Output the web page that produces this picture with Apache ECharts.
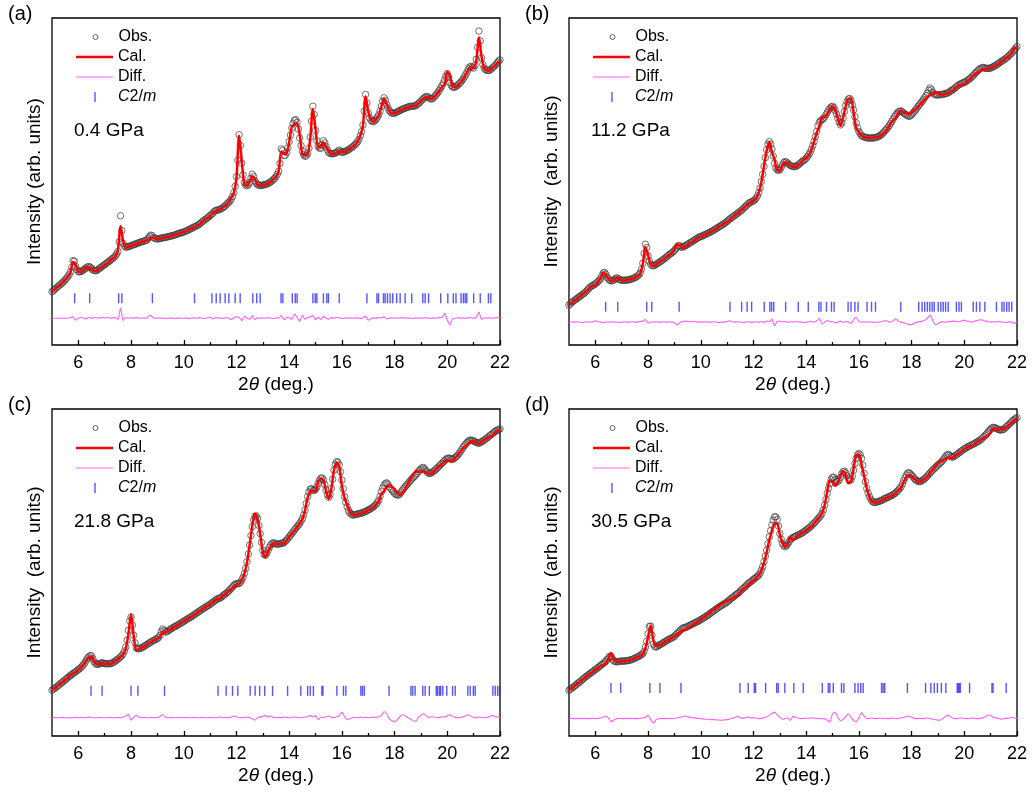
<!DOCTYPE html>
<html>
<head>
<meta charset="utf-8">
<title>Rietveld refinements under pressure</title>
<script src="https://cdn.jsdelivr.net/npm/echarts@6/dist/echarts.min.js"></script>
<style>
  html, body { margin: 0; padding: 0; background: #fff; }
  #chart { width: 1033px; height: 794px; }
</style>
</head>
<body>
<div id="chart"></div>
<script>
// ---- Powder patterns, 2θ = 5°…22°, intensities in arbitrary units ----
// Observed profiles are sampled every 0.05°, calculated and difference profiles every 0.1°.
const twoThetaStart = 5.0;
const obsStep = 0.05;
const calStep = 0.1;

// 0.4 GPa
const obsA = [
  16.3,16.6,17.0,17.4,17.7,18.0,18.4,18.7,19.1,19.5,19.9,20.4,20.9,21.5,22.4,23.8,25.8,25.6,24.0,23.0,
  22.4,22.4,22.5,22.7,23.0,23.3,23.6,23.9,24.0,23.8,23.4,23.0,22.8,22.7,22.8,23.1,23.4,23.7,24.0,24.3,
  24.6,24.9,25.2,25.5,25.8,26.1,26.5,26.8,27.2,27.8,28.6,31.5,39.5,35.0,31.1,30.2,29.9,30.0,30.1,30.2,
  30.4,30.5,30.7,30.8,31.0,31.1,31.3,31.4,31.6,31.7,31.8,31.9,32.1,32.6,33.2,33.6,33.4,32.9,32.6,32.5,
  32.4,32.5,32.6,32.7,32.8,32.8,32.9,33.0,33.1,33.2,33.3,33.4,33.5,33.6,33.8,33.9,34.1,34.2,34.3,34.4,
  34.6,34.7,34.9,35.1,35.3,35.5,35.7,35.9,36.1,36.3,36.5,36.7,37.0,37.3,37.7,38.0,38.3,38.6,38.9,39.2,
  39.6,39.9,40.3,40.8,41.1,41.2,41.3,41.4,41.6,41.8,42.1,42.4,42.8,43.2,43.6,44.0,44.6,45.4,46.6,48.5,
  51.5,56.5,64.3,61.0,55.6,52.0,49.7,48.9,48.7,49.0,49.7,51.0,52.2,51.5,50.2,49.5,49.0,48.9,48.8,48.8,
  48.9,49.0,49.1,49.2,49.4,49.6,49.9,50.2,50.6,51.0,51.5,52.2,53.1,55.5,60.0,59.5,57.9,58.0,58.9,60.3,
  62.2,64.2,66.3,67.8,68.7,68.9,68.1,66.0,63.3,61.0,59.2,58.2,57.7,57.9,58.5,60.2,63.6,68.5,73.0,70.5,
  65.6,62.5,60.7,60.2,60.2,61.2,62.5,61.8,60.7,59.7,58.9,58.6,58.5,58.5,58.6,58.7,58.9,59.3,59.6,59.2,
  58.9,59.0,59.1,59.3,59.5,59.7,60.0,60.3,60.6,60.9,61.3,61.7,62.2,62.9,64.0,65.3,67.3,71.5,76.6,74.0,
  70.9,69.5,68.7,68.4,68.3,68.6,69.1,69.7,70.4,71.5,73.0,74.6,75.6,74.8,73.5,72.5,71.7,71.2,70.9,70.9,
  70.9,71.1,71.3,71.5,71.7,71.9,72.1,72.3,72.4,72.6,72.7,72.9,73.0,73.0,73.0,73.1,73.2,73.5,73.8,74.2,
  74.6,75.0,75.4,75.8,76.0,75.9,75.6,75.4,75.2,75.4,75.8,76.3,76.8,77.3,77.9,78.6,79.3,80.1,81.1,82.2,
  83.0,81.8,80.3,79.4,78.9,78.8,78.9,79.2,79.5,79.9,80.3,80.8,81.3,82.0,82.7,83.5,84.4,85.0,85.2,85.0,
  84.7,85.5,87.4,91.0,96.0,93.0,87.8,85.8,84.7,84.2,84.0,83.9,84.0,84.3,84.7,85.0,85.4,85.9,86.4,86.8,
  87.2
];
const calA = [
  16.3,17.0,17.7,18.4,19.1,19.9,20.9,22.2,25.4,24.6,
  22.4,22.3,23.0,23.8,23.7,23.4,22.6,22.7,23.4,23.8,
  24.5,24.9,25.8,26.4,27.0,29.0,36.4,31.8,29.7,30.1,
  30.3,30.7,30.8,31.3,31.6,31.7,32.1,32.3,32.9,32.7,
  32.3,32.6,32.7,33.0,33.1,33.2,33.5,33.9,34.0,34.3,
  34.6,34.8,35.4,35.7,36.0,36.5,36.8,37.7,38.4,38.8,
  39.3,40.5,40.9,41.3,41.5,42.2,42.6,43.6,45.0,46.5,
  51.1,64.0,56.4,49.1,48.7,50.0,51.5,50.7,48.9,48.8,
  48.8,49.1,49.2,49.9,50.7,51.4,53.1,59.2,58.4,58.6,
  62.0,66.7,67.4,67.8,64.3,58.3,58.0,58.3,63.2,72.2,
  66.1,60.4,60.6,61.9,60.7,59.2,58.3,58.6,58.6,59.4,
  59.0,59.0,59.5,59.9,60.6,61.2,62.2,64.1,67.1,76.0,
  71.5,68.9,68.2,69.1,70.2,72.9,75.2,73.7,71.7,70.8,
  70.9,71.2,71.7,71.9,72.4,72.6,73.0,73.1,73.1,73.8,
  74.5,75.4,75.8,75.7,75.2,75.7,76.8,77.7,79.0,79.7,
  83.6,82.4,79.0,78.9,79.3,80.3,81.2,82.7,84.2,85.1,
  84.7,87.1,94.1,88.2,84.6,84.0,83.9,84.7,85.3,86.2,
  86.9
];
const diffA = [
  0.0,0.0,0.0,0.0,0.0,0.0,0.0,0.2,0.4,-0.6,
  0.0,0.2,0.0,-0.2,0.3,0.0,0.2,0.1,0.0,0.2,
  0.1,0.3,0.0,0.1,0.2,-0.4,3.1,-0.7,0.2,0.0,
  0.1,0.0,0.2,0.0,0.0,0.1,0.0,0.9,0.5,-0.1,
  0.1,0.0,0.1,-0.1,0.0,0.1,0.0,-0.1,0.1,0.0,
  0.0,0.1,-0.1,0.0,0.1,0.0,0.2,0.0,-0.1,0.1,
  0.3,-0.2,0.2,0.0,0.1,-0.1,0.2,0.0,-0.4,0.1,
  0.4,0.3,-0.8,0.6,0.0,-0.3,0.7,-0.5,0.1,0.0,
  0.1,0.0,0.2,0.0,-0.1,0.1,0.0,0.8,-0.5,0.3,
  0.2,-0.4,1.3,0.3,-1.0,0.9,-0.3,0.2,0.4,0.8,
  -0.5,0.3,-0.4,0.6,0.0,-0.3,0.2,0.0,0.3,0.2,
  -0.1,0.1,0.0,0.1,0.0,0.1,0.0,-0.1,0.2,0.6,
  -0.6,-0.2,0.1,0.0,0.2,0.1,0.4,-0.2,0.0,0.1,
  0.0,0.1,0.0,0.2,0.0,0.1,0.0,-0.1,0.1,0.0,
  0.1,0.0,0.2,-0.1,0.0,0.1,0.0,0.2,0.3,1.4,
  -0.6,-2.1,-0.1,0.0,0.2,0.0,0.1,0.0,0.2,0.1,
  0.0,0.3,1.9,-0.4,0.1,0.0,0.1,0.0,0.1,0.2,
  0.3
];
const hklA = [5.86,6.43,7.53,7.65,8.81,10.41,11.07,11.23,11.38,11.57,11.71,11.95,12.14,12.62,12.77,12.90,
  13.69,13.76,14.12,14.23,14.30,14.90,14.99,15.05,15.30,15.43,15.49,15.90,16.95,17.33,17.39,17.58,17.64,
  17.73,17.83,17.93,18.08,18.21,18.40,18.65,19.07,19.16,19.29,19.75,20.02,20.23,20.33,20.52,20.61,20.68,
  20.74,21.00,21.25,21.56,21.65];

// 11.2 GPa
const obsB = [
  12.2,12.6,13.0,13.3,13.6,13.9,14.2,14.5,14.8,15.1,15.4,15.7,16.0,16.4,16.8,17.3,17.7,18.0,18.2,18.4,
  18.7,19.0,19.4,19.8,20.3,21.2,22.0,22.2,21.6,20.7,20.1,19.8,19.6,19.7,19.9,20.2,20.5,20.4,20.1,19.9,
  19.8,19.8,19.8,19.8,19.9,19.9,20.0,20.1,20.3,20.4,20.6,20.8,21.1,21.5,22.1,23.2,25.0,28.0,30.8,29.8,
  27.2,25.7,24.7,24.3,24.2,24.4,24.6,24.9,25.2,25.4,25.7,26.0,26.3,26.6,26.9,27.3,27.6,27.9,28.2,28.5,
  28.9,29.4,29.9,30.4,30.3,30.0,29.9,30.1,30.3,30.5,30.8,31.0,31.3,31.5,31.8,32.0,32.3,32.6,32.8,33.0,
  33.2,33.3,33.5,33.7,33.9,34.1,34.3,34.5,34.7,34.9,35.2,35.4,35.7,35.9,36.2,36.4,36.7,36.9,37.2,37.5,
  37.8,38.2,38.5,38.8,39.1,39.4,39.7,40.0,40.3,40.6,40.9,41.2,41.6,42.0,42.4,42.8,43.2,43.5,43.7,43.9,
  44.1,44.4,44.9,45.6,46.6,48.0,50.0,52.2,54.6,57.3,59.7,61.4,62.2,61.5,59.9,57.8,55.6,54.2,53.6,53.4,
  53.6,54.3,55.1,55.8,56.1,55.9,55.6,55.2,54.9,54.7,54.6,54.6,54.6,54.8,55.1,55.4,55.8,56.1,56.4,56.7,
  57.1,57.6,58.2,58.9,59.9,61.0,62.2,63.7,65.3,67.0,68.1,68.6,68.9,69.2,69.7,70.4,71.1,71.8,72.4,72.8,
  73.0,72.6,71.7,70.6,69.4,68.2,67.3,67.9,69.4,71.4,73.2,74.4,75.2,75.4,74.8,73.5,71.9,69.8,67.9,66.4,
  65.3,64.6,64.0,63.8,63.6,63.5,63.4,63.3,63.3,63.3,63.3,63.3,63.4,63.5,63.6,63.8,64.0,64.3,64.7,65.1,
  65.6,66.0,66.5,67.1,67.7,68.4,69.1,69.8,70.4,70.9,71.3,71.5,71.6,71.3,70.9,70.6,70.4,70.1,69.9,70.1,
  70.4,70.9,71.4,71.9,72.4,73.0,73.5,74.0,74.5,75.1,75.7,76.3,77.0,77.9,78.6,78.1,77.3,76.8,76.5,76.5,
  76.5,76.5,76.6,76.6,76.7,76.8,76.9,77.0,77.2,77.5,77.8,78.0,78.3,78.6,79.0,79.3,79.6,79.8,80.0,80.2,
  80.3,80.5,80.8,81.1,81.4,81.7,82.1,82.5,83.0,83.4,83.8,84.2,84.5,84.7,84.9,84.8,84.6,84.6,84.6,84.6,
  84.7,84.9,85.1,85.3,85.6,85.8,86.1,86.4,86.7,86.9,87.2,87.5,87.8,88.1,88.5,88.9,89.3,89.8,90.3,90.8,
  91.3
];
const calB = [
  12.2,12.9,13.6,14.1,14.8,15.5,16.0,16.7,17.7,18.1,
  18.3,19.3,20.3,22.2,21.5,20.1,19.5,19.9,20.5,20.2,
  19.8,19.7,19.9,20.0,20.2,20.6,21.0,21.9,24.7,30.0,
  27.5,24.6,24.2,24.5,25.2,25.7,26.2,26.9,27.5,28.2,
  29.1,30.7,30.5,29.7,30.0,30.6,31.2,31.6,32.2,32.8,
  33.1,33.5,33.8,34.3,34.7,35.1,35.7,36.3,36.7,37.2,
  37.6,38.1,39.0,39.7,40.2,40.9,41.7,42.4,43.1,43.7,
  44.1,44.8,46.6,49.8,54.7,59.4,62.0,59.0,56.7,53.4,
  53.3,55.0,55.9,55.6,54.8,54.6,54.4,55.1,55.7,56.6,
  57.1,58.1,59.7,62.2,64.9,66.9,69.5,69.7,70.6,72.2,
  72.9,71.9,69.4,67.0,69.5,73.0,75.2,75.2,71.1,66.4,
  65.1,64.0,63.5,63.4,63.2,63.3,63.5,63.6,63.9,64.5,
  65.1,66.3,67.7,68.7,69.4,71.0,71.6,71.1,70.9,70.6,
  71.2,71.7,72.4,73.4,74.2,75.1,75.8,76.4,76.7,77.3,
  77.0,76.6,76.6,76.9,77.1,77.6,78.0,78.8,79.5,79.6,
  79.7,80.5,81.2,82.1,82.7,83.3,83.8,84.3,84.3,84.5,
  84.7,85.0,85.6,85.9,86.6,87.2,87.9,88.4,89.3,90.7,
  91.1
];
const diffB = [
  0.0,0.1,0.0,0.1,0.0,-0.1,0.0,0.1,0.0,0.1,
  0.4,0.1,0.0,-0.2,0.1,0.0,0.1,0.0,0.0,-0.1,
  0.0,0.1,0.0,0.0,0.1,0.0,0.1,0.2,0.3,0.8,
  -0.3,0.1,0.0,0.1,0.0,0.0,0.1,0.0,0.1,0.0,
  -0.2,-0.8,-0.2,0.2,0.3,0.2,0.1,0.2,0.1,0.0,
  0.1,0.0,0.1,0.0,0.0,0.1,0.0,-0.1,0.0,0.0,
  0.2,0.4,0.1,0.0,0.1,0.0,-0.1,0.0,0.1,0.0,
  0.0,0.1,0.0,0.2,-0.1,0.3,0.2,0.9,-1.1,0.2,
  0.3,0.1,0.2,0.0,0.1,0.0,0.2,0.0,0.1,-0.2,
  0.0,0.1,0.2,0.0,0.4,1.2,-0.6,0.0,0.5,0.2,
  0.1,-0.2,0.0,0.3,-0.1,0.2,0.0,-0.4,0.8,1.5,
  0.2,0.0,0.1,0.0,0.1,0.0,-0.1,0.0,0.1,0.2,
  0.5,0.2,0.0,0.4,1.0,0.3,0.0,-0.2,-0.5,-0.7,
  -0.8,-0.3,0.0,0.1,0.3,0.6,1.2,2.2,0.6,-0.8,
  -0.5,0.0,0.1,0.0,0.1,0.2,0.3,0.2,0.1,0.4,
  0.6,0.3,0.2,0.0,0.3,0.5,0.7,0.6,0.3,0.1,
  0.0,0.1,0.0,0.2,0.1,0.0,-0.1,0.1,0.0,-0.4,
  0.2
];
const hklB = [6.39,6.85,7.95,8.14,9.18,11.11,11.55,11.76,11.93,12.41,12.62,12.69,12.77,13.22,13.70,14.08,
  14.48,14.56,14.77,14.96,15.06,15.59,15.70,15.85,15.97,16.31,16.48,16.63,17.59,18.27,18.40,18.50,18.60,
  18.69,18.78,18.86,19.01,19.11,19.20,19.29,19.39,19.70,19.80,19.89,20.34,20.46,20.59,20.78,21.22,21.43,
  21.51,21.61,21.70,21.80];

// 21.8 GPa
const obsC = [
  14.0,14.3,14.6,14.9,15.2,15.5,15.9,16.2,16.5,16.8,17.2,17.5,17.9,18.2,18.5,18.8,19.1,19.4,19.7,20.0,
  20.3,20.6,21.0,21.4,21.9,22.5,23.2,23.8,24.2,24.6,24.5,23.6,22.7,22.2,21.9,21.9,22.1,22.3,22.4,22.3,
  22.1,22.1,22.1,22.1,22.1,22.2,22.4,22.6,22.9,23.2,23.5,23.8,24.2,24.6,25.2,26.0,27.2,29.3,32.3,35.2,
  36.4,34.0,30.8,28.5,27.0,26.7,26.7,26.8,27.0,27.2,27.4,27.7,28.0,28.2,28.5,28.7,29.0,29.2,29.4,29.6,
  29.8,30.2,30.8,31.9,32.7,32.3,31.8,31.9,32.1,32.4,32.7,32.9,33.2,33.4,33.6,33.8,34.1,34.3,34.6,34.8,
  35.1,35.3,35.6,35.8,36.1,36.3,36.6,36.8,37.1,37.4,37.7,37.9,38.2,38.5,38.8,39.0,39.3,39.5,39.8,40.0,
  40.3,40.6,40.9,41.2,41.5,41.8,42.0,42.1,42.3,42.6,43.0,43.3,43.6,43.9,44.3,44.7,45.1,45.6,46.1,46.4,
  46.6,46.6,46.6,47.0,47.7,48.5,49.7,51.3,53.3,55.7,58.4,61.3,64.0,66.0,67.2,67.3,66.5,64.4,61.9,59.2,
  56.8,55.6,55.3,55.9,56.8,57.7,58.4,58.9,59.1,58.9,58.7,58.7,58.7,58.8,58.9,59.0,59.1,59.5,59.9,60.4,
  60.9,61.4,61.9,62.4,63.0,63.5,64.0,64.5,65.0,65.7,66.5,67.6,69.1,71.1,73.2,74.6,75.5,75.6,75.2,75.1,
  75.4,76.2,77.2,78.2,78.8,78.9,78.3,76.9,75.2,73.8,73.0,73.8,75.7,78.5,81.3,83.1,83.9,83.7,82.9,80.8,
  78.3,75.6,73.2,71.4,70.1,69.0,68.3,67.9,67.6,67.6,67.7,67.8,67.9,68.0,68.1,68.2,68.3,68.5,68.7,68.9,
  69.1,69.3,69.6,69.8,70.1,70.5,70.9,71.4,72.1,73.3,74.7,75.8,76.7,77.2,77.4,77.0,76.2,75.7,75.2,74.7,
  74.2,73.9,73.7,73.7,74.0,74.6,75.2,75.7,76.2,76.7,77.1,77.6,78.1,78.6,79.0,79.4,79.8,80.3,80.8,81.3,
  81.7,82.0,82.1,81.6,81.1,80.6,80.3,80.3,80.5,80.8,81.1,81.4,81.8,82.2,82.6,83.0,83.4,83.8,84.2,84.6,
  84.9,85.0,84.9,84.7,84.6,84.8,85.2,85.5,85.9,86.4,87.0,87.6,88.3,88.8,89.3,89.8,90.2,90.4,90.5,90.4,
  90.2,90.0,89.8,89.6,89.5,89.7,90.0,90.2,90.5,90.8,91.1,91.4,91.8,92.1,92.4,92.7,93.1,93.3,93.5,93.7,
  93.9
];
const calC = [
  14.0,14.5,15.2,15.9,16.4,17.2,17.9,18.6,19.1,19.6,
  20.3,20.9,21.9,23.2,24.0,24.4,22.7,21.9,22.0,22.4,
  22.1,22.1,22.0,22.4,22.9,23.4,24.2,25.0,26.7,31.3,
  37.2,30.6,26.3,26.5,27.0,27.3,28.0,28.5,28.9,29.4,
  29.7,30.4,31.8,31.6,32.1,32.6,33.2,33.6,34.0,34.6,
  35.1,35.5,36.1,36.6,37.0,37.7,38.2,38.7,39.3,39.8,
  40.2,40.9,41.5,41.9,42.1,43.0,43.5,44.3,44.9,45.6,
  46.3,46.6,47.6,49.7,53.1,58.4,64.3,68.0,66.4,61.7,
  56.4,54.6,56.6,57.9,59.0,58.7,58.6,58.9,58.9,59.8,
  60.9,61.8,62.8,63.9,65.0,66.4,68.9,72.9,74.8,75.0,
  74.7,77.8,78.6,78.3,74.9,72.5,75.6,81.3,83.6,82.3,
  76.6,72.8,70.7,68.6,67.6,67.6,67.9,67.9,68.3,68.6,
  69.1,69.5,69.9,70.8,71.8,74.1,74.8,76.2,76.6,76.1,
  75.5,74.3,73.7,74.3,75.6,77.1,78.5,79.9,80.9,80.8,
  80.9,80.9,80.6,80.2,80.2,80.9,81.8,82.5,83.1,84.0,
  84.4,84.0,84.2,85.1,85.9,86.9,88.0,88.7,89.3,90.1,
  90.1,89.8,89.3,89.9,90.5,91.0,91.5,91.7,92.7,93.3,
  93.8
];
const diffC = [
  0.0,0.1,0.0,0.0,0.1,0.0,0.0,-0.1,0.0,0.1,
  0.0,0.1,0.0,0.0,0.2,0.1,0.0,0.0,0.1,0.0,
  0.0,0.0,0.1,0.0,0.0,0.1,0.0,0.2,0.5,1.0,
  -0.8,0.2,0.7,0.2,0.0,0.1,0.0,0.0,0.1,0.0,
  0.1,0.4,0.9,0.2,0.0,0.1,0.0,0.0,0.1,0.0,
  0.0,0.1,0.0,0.0,0.1,0.0,0.0,0.1,0.0,0.0,
  0.1,0.0,0.0,0.1,0.2,0.0,0.1,0.0,0.2,0.5,
  0.3,0.0,0.1,0.0,0.2,0.0,-0.3,-0.8,0.1,0.2,
  0.4,0.7,0.2,0.5,0.1,0.0,0.1,0.0,0.2,0.1,
  0.0,0.1,0.2,0.1,0.0,0.1,0.2,0.3,0.7,0.2,
  0.7,-0.6,0.2,0.0,0.3,0.5,0.1,0.0,0.3,0.6,
  1.7,0.4,-0.6,-0.3,0.0,0.1,0.0,0.2,0.0,0.1,
  0.0,0.1,0.2,0.1,0.3,0.6,1.9,1.2,-0.4,-0.9,
  -1.3,-0.6,0.3,0.9,0.6,0.0,-0.4,-0.9,-1.1,0.0,
  0.8,1.2,0.5,0.1,0.3,0.2,0.0,0.1,0.3,0.2,
  0.5,0.9,0.4,0.1,0.0,0.1,0.3,0.6,0.9,0.4,
  0.1,0.0,0.2,0.1,0.0,0.1,0.3,0.7,0.4,0.2,
  0.1
];
const hklC = [6.48,6.90,8.00,8.26,9.27,11.30,11.61,11.85,12.05,12.52,12.71,12.88,13.07,13.37,13.94,14.44,
  14.70,14.80,14.92,15.24,15.28,15.81,16.06,16.15,16.72,16.78,16.85,17.79,18.62,18.69,18.78,19.07,19.16,
  19.32,19.58,19.63,19.70,19.75,19.83,19.98,20.20,20.30,20.78,20.87,20.99,21.06,21.73,21.82,21.91,21.98];

// 30.5 GPa
const obsD = [
  14.0,14.3,14.6,14.9,15.2,15.5,15.9,16.2,16.5,16.8,17.2,17.5,17.9,18.2,18.5,18.8,19.1,19.4,19.7,20.0,
  20.3,20.6,20.9,21.2,21.6,21.9,22.2,22.5,22.9,23.4,23.9,24.4,24.4,23.6,23.0,22.8,22.7,22.7,22.8,22.9,
  22.9,22.9,22.9,23.0,23.0,23.1,23.2,23.3,23.4,23.6,23.8,24.0,24.2,24.4,24.6,24.9,25.2,25.9,27.2,29.0,
  31.3,33.5,33.6,30.8,28.1,27.4,27.2,27.4,27.7,27.9,28.1,28.4,28.6,28.9,29.1,29.4,29.6,29.8,30.0,30.2,
  30.5,30.9,31.3,31.7,32.1,32.5,32.9,33.1,33.2,33.3,33.5,33.7,33.9,34.1,34.3,34.5,34.7,34.9,35.1,35.3,
  35.6,35.8,36.1,36.3,36.6,36.8,37.1,37.4,37.8,38.0,38.3,38.6,38.9,39.2,39.5,39.7,40.0,40.2,40.5,40.7,
  41.0,41.3,41.7,42.0,42.3,42.6,43.0,43.3,43.6,43.9,44.3,44.7,45.1,45.4,45.8,46.2,46.6,46.9,47.2,47.5,
  47.9,48.2,48.5,48.8,49.2,49.8,50.7,51.8,53.3,55.0,56.8,58.8,60.9,62.8,64.5,66.0,67.0,67.0,66.2,64.2,
  61.9,60.2,58.9,58.2,57.9,58.2,58.7,59.4,60.1,60.4,60.7,60.9,61.1,61.3,61.5,61.7,61.9,62.1,62.4,62.7,
  63.0,63.3,63.6,63.9,64.3,64.7,65.1,65.5,66.0,66.4,66.9,67.4,68.1,69.1,70.6,72.3,74.2,75.8,77.2,78.4,
  79.1,79.1,78.5,78.1,77.8,78.3,79.1,80.1,80.8,81.0,80.5,79.6,78.8,78.4,78.3,79.4,81.3,83.3,84.9,86.0,
  86.4,86.0,84.9,82.8,80.3,77.8,75.7,74.3,73.2,72.4,71.8,71.5,71.4,71.5,71.6,71.7,71.9,72.0,72.2,72.5,
  72.7,72.8,73.0,73.2,73.4,73.6,73.8,74.1,74.4,74.8,75.2,75.7,76.2,77.1,78.1,79.0,79.8,80.4,80.5,80.2,
  79.8,79.3,78.8,78.4,78.1,77.9,77.8,77.9,78.1,78.4,78.7,79.1,79.5,80.0,80.4,80.9,81.3,81.7,82.1,82.5,
  82.9,83.2,83.6,84.0,84.4,85.0,85.6,86.0,86.1,85.8,85.4,85.3,85.4,85.7,86.0,86.3,86.6,86.9,87.2,87.5,
  87.8,88.0,88.3,88.5,88.7,88.9,89.1,89.3,89.5,89.8,90.0,90.2,90.5,90.8,91.2,91.6,92.0,92.4,92.9,93.4,
  93.8,94.2,94.4,94.3,94.1,93.9,93.7,93.6,93.6,93.7,93.8,94.2,94.6,95.0,95.3,95.7,96.1,96.5,96.8,97.1,
  97.4
];
const calD = [
  14.0,14.5,15.2,15.9,16.4,17.2,17.8,18.5,19.1,19.6,
  20.3,20.8,21.4,21.7,22.1,23.7,25.4,23.4,22.7,22.7,
  22.9,22.9,22.9,23.2,23.3,23.8,24.2,24.5,25.0,26.8,
  30.3,33.8,29.4,27.5,27.7,28.0,28.6,29.1,29.5,30.0,
  30.4,31.1,31.7,32.3,32.4,32.9,33.5,34.0,34.5,35.0,
  35.6,36.2,36.8,37.3,38.1,38.6,39.3,39.9,40.5,40.9,
  41.3,41.8,42.1,42.6,42.9,44.0,45.0,45.5,46.1,47.0,
  47.6,48.3,49.2,50.6,53.0,56.2,59.9,62.9,65.0,65.0,
  61.5,59.1,57.9,58.5,60.6,60.0,60.6,61.4,61.9,62.3,
  62.8,63.5,64.0,64.9,66.0,66.8,68.2,70.6,74.7,78.2,
  77.6,76.5,77.4,79.7,81.0,79.9,77.3,77.8,81.9,85.9,
  86.1,83.0,79.5,75.7,73.1,71.6,71.4,71.5,71.7,72.2,
  72.6,73.0,73.3,73.6,74.4,75.1,76.0,77.7,79.2,79.7,
  79.4,78.7,78.1,77.7,78.1,78.6,79.3,80.4,81.4,82.4,
  83.4,84.0,84.3,84.8,85.1,85.0,85.3,86.0,86.5,87.0,
  87.7,88.3,88.6,88.9,89.4,90.0,90.4,90.9,91.4,91.8,
  92.8,94.0,93.9,93.6,93.8,93.8,94.5,95.1,95.7,96.6,
  97.3
];
const diffD = [
  0.0,0.1,0.0,0.0,0.1,0.0,0.1,0.0,0.0,0.1,
  0.0,0.1,0.2,0.5,0.8,0.2,-1.0,-0.4,0.0,0.1,
  0.0,0.0,0.1,0.0,0.1,0.0,0.0,0.1,0.2,0.4,
  1.0,-0.2,-1.3,-0.3,0.0,0.1,0.0,0.0,0.1,0.0,
  0.1,0.2,0.4,0.6,0.8,0.6,0.4,0.3,0.2,0.1,
  0.0,-0.1,-0.2,-0.2,-0.3,-0.3,-0.4,-0.4,-0.5,-0.4,
  -0.3,-0.1,0.2,0.4,0.7,0.3,0.1,0.3,0.5,0.2,
  0.3,0.2,0.0,0.1,0.3,0.6,1.0,1.6,2.0,1.2,
  0.4,-0.2,0.0,0.2,-0.5,0.7,0.5,0.1,0.0,0.1,
  0.2,0.1,0.3,0.2,0.0,0.1,-0.1,0.0,-0.5,-1.0,
  1.5,2.0,0.4,-0.6,-0.2,0.6,1.5,0.5,-0.6,-1.0,
  0.3,1.9,0.8,0.0,0.1,0.2,0.0,0.1,0.2,0.0,
  0.1,0.0,0.1,0.2,0.0,0.1,0.2,0.4,0.6,0.8,
  0.4,0.1,0.0,0.1,0.0,0.1,0.2,0.0,-0.1,-0.3,
  -0.5,-0.4,0.1,0.8,1.0,0.4,0.1,0.0,0.1,0.2,
  0.1,0.0,0.1,0.2,0.1,0.0,0.1,0.3,0.6,1.1,
  1.0,0.4,0.2,0.1,-0.2,0.0,0.1,0.2,0.4,0.2,
  0.1
];
const hklD = [6.59,6.96,8.07,8.45,9.25,11.49,11.80,12.03,12.08,12.46,12.88,12.94,13.19,13.53,13.89,14.61,
  14.84,14.90,15.03,15.34,15.43,15.85,15.97,16.07,16.16,16.86,16.92,16.98,17.84,18.53,18.73,18.86,18.98,
  19.13,19.30,19.73,19.77,19.81,19.85,20.20,21.05,21.09,21.59];

const pressureLabels = ['0.4 GPa', '11.2 GPa', '21.8 GPa', '30.5 GPa'];
const panelTags = ['(a)', '(b)', '(c)', '(d)'];
const xMajorTicks = [6, 8, 10, 12, 14, 16, 18, 20, 22];
const xMinorTicks = [7, 9, 11, 13, 15, 17, 19, 21];
const legendNames = ['Obs.', 'Cal.', 'Diff.', 'C2/m'];

// ---- Layout and styling ----
const FONT = '"Liberation Sans", Arial, Helvetica, sans-serif';
const GRID_W = 448, GRID_H = 327;
const panels = [
  { obs: obsA, cal: calA, diff: diffA, hkl: hklA, left: 52,  top: 18,  diffBase: 8.2, hklLevel: 14.3, yName: 'Intensity (arb. units)' },
  { obs: obsB, cal: calB, diff: diffB, hkl: hklB, left: 569, top: 18,  diffBase: 7.0, hklLevel: 11.7, yName: 'Intensity  (arb. units)' },
  { obs: obsC, cal: calC, diff: diffC, hkl: hklC, left: 52,  top: 409, diffBase: 5.6, hklLevel: 13.8, yName: 'Intensity  (arb. units)' },
  { obs: obsD, cal: calD, diff: diffD, hkl: hklD, left: 569, top: 409, diffBase: 5.3, hklLevel: 14.7, yName: 'Intensity  (arb. units)' }
];
const COLORS = { obs: '#3e3e3e', cal: '#ff0000', diff: '#ff5cff', hkl: '#2a2aff' };

// pair each intensity with its 2θ position on the sampling grid
const toPairs = (values, step, base = 0) =>
  values.map((v, i) => [Math.round((twoThetaStart + i * step) * 100) / 100, +(v + base).toFixed(2)]);

const grid = [], xAxis = [], yAxis = [], series = [], legend = [], title = [];

panels.forEach((p, k) => {
  grid.push({
    left: p.left, top: p.top, width: GRID_W, height: GRID_H,
    show: true, borderColor: '#000', borderWidth: 1.3, backgroundColor: 'rgba(0,0,0,0)'
  });

  // major ticks with labels
  xAxis.push({
    type: 'value', gridIndex: k, position: 'bottom', min: 5, max: 22,
    axisLine: { show: false },
    axisTick: { show: true, inside: true, length: 5, customValues: xMajorTicks, lineStyle: { color: '#000', width: 1.3 } },
    axisLabel: { show: true, customValues: xMajorTicks, fontSize: 18, color: '#000', margin: 9, fontFamily: FONT },
    splitLine: { show: false },
    name: '2{i|θ} (deg.)', nameLocation: 'middle', nameGap: 30,
    nameTextStyle: {
      fontSize: 19, color: '#000', fontFamily: FONT,
      rich: { i: { fontStyle: 'italic', fontSize: 19, color: '#000', fontFamily: FONT } }
    }
  });
  // minor ticks
  xAxis.push({
    type: 'value', gridIndex: k, position: 'bottom', min: 5, max: 22,
    axisLine: { show: false },
    axisTick: { show: true, inside: true, length: 3, customValues: xMinorTicks, lineStyle: { color: '#000', width: 1.3 } },
    axisLabel: { show: false }, splitLine: { show: false }
  });

  yAxis.push({
    type: 'value', gridIndex: k, min: 0, max: 100,
    axisLine: { show: false }, axisTick: { show: false }, axisLabel: { show: false }, splitLine: { show: false },
    name: p.yName, nameLocation: 'middle', nameGap: 8,
    nameTextStyle: { fontSize: 19, color: '#000', fontFamily: FONT }
  });

  const xi = 2 * k;
  series.push({
    name: 'Obs.', type: 'scatter', xAxisIndex: xi, yAxisIndex: k,
    data: toPairs(p.obs, obsStep), symbol: 'circle', symbolSize: 6.5,
    itemStyle: { color: 'rgba(0,0,0,0)', borderColor: COLORS.obs, borderWidth: 0.9 },
    silent: true, z: 2
  });
  series.push({
    name: 'Cal.', type: 'line', xAxisIndex: xi, yAxisIndex: k,
    data: toPairs(p.cal, calStep), symbol: 'none', smooth: 0.3,
    itemStyle: { color: COLORS.cal }, lineStyle: { color: COLORS.cal, width: 2.5 },
    silent: true, z: 3
  });
  series.push({
    name: 'Diff.', type: 'line', xAxisIndex: xi, yAxisIndex: k,
    data: toPairs(p.diff, calStep, p.diffBase), symbol: 'none', smooth: 0.2,
    itemStyle: { color: COLORS.diff }, lineStyle: { color: COLORS.diff, width: 1.1 },
    silent: true, z: 3
  });
  series.push({
    name: 'C2/m', type: 'scatter', xAxisIndex: xi, yAxisIndex: k,
    data: p.hkl.map(t => [t, p.hklLevel]), symbol: 'rect', symbolSize: [1.4, 10],
    itemStyle: { color: COLORS.hkl }, silent: true, z: 3
  });

  // one legend component per row so each key gets its own icon size
  const legendRows = [
    { icon: 'circle', w: 5,   h: 5,   dx: 40.5, pad: 15.5,
      itemStyle: { color: 'rgba(0,0,0,0)', borderColor: COLORS.obs, borderWidth: 1 } },
    { icon: 'rect',   w: 37,  h: 2.4, dx: 24,   pad: 0, itemStyle: { color: COLORS.cal } },
    { icon: 'rect',   w: 37,  h: 1,   dx: 24,   pad: 0, itemStyle: { color: COLORS.diff } },
    { icon: 'rect',   w: 1.4, h: 10,  dx: 42.3, pad: 17.3, itemStyle: { color: COLORS.hkl } }
  ];
  legendNames.forEach((name, r) => {
    const row = legendRows[r];
    legend.push({
      left: p.left + row.dx, top: p.top + 9 + 20 * r, orient: 'vertical', padding: 0,
      itemWidth: row.w, itemHeight: row.h, itemGap: 0, selectedMode: false, symbolKeepAspect: false,
      data: [{ name, icon: row.icon, itemStyle: row.itemStyle }],
      formatter: n => (n === 'C2/m' ? '{i|C}2/{i|m}' : n),
      textStyle: {
        fontSize: 16, color: '#000', fontFamily: FONT, lineHeight: 20, padding: [0, 0, 0, row.pad],
        rich: { i: { fontStyle: 'italic', fontSize: 16, lineHeight: 20, color: '#000', fontFamily: FONT } }
      }
    });
  });

  title.push({
    text: panelTags[k], left: p.left - 44, top: p.top - 14, padding: 0,
    textStyle: { fontSize: 20, fontWeight: 'normal', color: '#000', fontFamily: FONT }
  });
  title.push({
    text: pressureLabels[k], left: p.left + 22, top: p.top + 103, padding: 0,
    textStyle: { fontSize: 19, fontWeight: 'normal', color: '#000', fontFamily: FONT }
  });
});

const chart = echarts.init(document.getElementById('chart'), null, { renderer: 'canvas' });
chart.setOption({
  backgroundColor: '#fff',
  animation: false,
  grid, xAxis, yAxis, series, legend, title
});
</script>
</body>
</html>
